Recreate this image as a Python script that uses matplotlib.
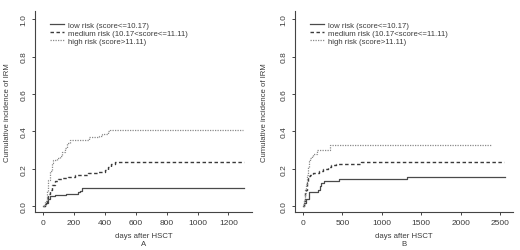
import numpy as np
import matplotlib
matplotlib.use("Agg")
import matplotlib.pyplot as plt

plt.rcParams['font.family'] = ['Liberation Sans', 'DejaVu Sans']

# panel A: cumulative incidence step curves (days, value)
a_low_t = [0, 10, 20, 30, 45, 75, 150, 225, 238, 250, 1300]
a_low_v = [0, 0.01, 0.02, 0.04, 0.053, 0.06, 0.066, 0.075, 0.083, 0.096, 0.096]
a_med_t = [0, 12, 25, 35, 45, 60, 75, 100, 120, 160, 205, 290, 355, 400, 420, 440, 465, 1300]
a_med_v = [0, 0.02, 0.045, 0.065, 0.09, 0.115, 0.135, 0.145, 0.15, 0.155, 0.17, 0.18, 0.185,
           0.195, 0.21, 0.225, 0.235, 0.235]
a_high_t = [0, 15, 25, 35, 45, 55, 65, 90, 110, 125, 140, 155, 175, 300, 365, 380, 420, 432, 1295]
a_high_v = [0, 0.03, 0.08, 0.14, 0.19, 0.23, 0.25, 0.26, 0.27, 0.29, 0.31, 0.34, 0.355, 0.37,
            0.375, 0.385, 0.40, 0.41, 0.41]

# panel B
b_low_t = [0, 15, 38, 80, 195, 210, 230, 270, 460, 1315, 2560]
b_low_v = [0, 0.02, 0.04, 0.075, 0.09, 0.11, 0.125, 0.135, 0.148, 0.157, 0.157]
b_med_t = [0, 10, 20, 30, 45, 60, 90, 120, 200, 250, 315, 360, 420, 740, 2545]
b_med_v = [0, 0.03, 0.06, 0.09, 0.13, 0.16, 0.17, 0.18, 0.19, 0.20, 0.21, 0.22, 0.225, 0.235, 0.235]
b_high_t = [0, 15, 25, 35, 45, 60, 75, 90, 110, 130, 180, 340, 2380]
b_high_v = [0, 0.03, 0.07, 0.12, 0.17, 0.21, 0.24, 0.26, 0.27, 0.28, 0.30, 0.325, 0.325]

labels = ['low risk (score<=10.17)', 'medium risk (10.17<score<=11.11)', 'high risk (score>11.11)']
yticks = [0.0, 0.2, 0.4, 0.6, 0.8, 1.0]
a_xticks = [0, 200, 400, 600, 800, 1000, 1200]
b_xticks = [0, 500, 1000, 1500, 2000, 2500]

txt = '#3c3c3c'
fs = 5.6

fig = plt.figure(figsize=(5.2, 2.51), dpi=100)
axA = fig.add_axes([0.0673, 0.150, 0.4173, 0.802])
axB = fig.add_axes([0.5673, 0.150, 0.4192, 0.802])

panels = [
    (axA, [(a_low_t, a_low_v), (a_med_t, a_med_v), (a_high_t, a_high_v)], a_xticks, (-52, 1352), 'A', 0.0135, 0.0962),
    (axB, [(b_low_t, b_low_v), (b_med_t, b_med_v), (b_high_t, b_high_v)], b_xticks, (-102, 2662), 'B', 0.5096, 0.596),
]
styles = [
    dict(color='#4a4a4a', lw=0.9, linestyle='-'),
    dict(color='#3a3a3a', lw=1.0, linestyle=(0, (2.5, 1.8))),
    dict(color='#8a8a8a', lw=0.9, linestyle=(0, (1, 1))),
]

for ax, curves, xt, xl, tag, ylab_x, leg_x in panels:
    for (t, v), st, lab in zip(curves, styles, labels):
        ax.step(t, v, where='post', label=lab, **st)
    ax.set_xlim(*xl)
    ax.set_ylim(-0.032, 1.043)
    ax.set_xticks(xt)
    ax.set_yticks(yticks)
    ax.set_yticklabels([f'{y:.1f}' for y in yticks], rotation=90, va='center')
    for s in ['top', 'right']:
        ax.spines[s].set_visible(False)
    for s in ['left', 'bottom']:
        ax.spines[s].set_color('#444444')
        ax.spines[s].set_linewidth(0.8)
    ax.tick_params(axis='both', colors='#444444', labelcolor=txt, labelsize=6,
                   length=2.5, width=0.7)
    ax.tick_params(axis='x', pad=2)
    ax.tick_params(axis='y', pad=3)
    leg = ax.legend(loc='upper left', bbox_to_anchor=(leg_x, 0.911), bbox_transform=fig.transFigure,
                    frameon=False, fontsize=fs, handlelength=1.75, handletextpad=0.6,
                    labelspacing=0.08, borderpad=0, borderaxespad=0)
    for t in leg.get_texts():
        t.set_color(txt)
    pos = ax.get_position()
    cx = (pos.x0 + pos.x1) / 2
    fig.text(cx, 0.057, 'days after HSCT', ha='center', va='center', fontsize=fs, color=txt)
    fig.text(cx, 0.024, tag, ha='center', va='center', fontsize=fs, color=txt)
    fig.text(ylab_x, 0.552, 'Cumulative incidence of IRM', rotation=90, ha='center', va='center',
             fontsize=fs, color=txt)

fig.savefig('out.png', dpi=100)
